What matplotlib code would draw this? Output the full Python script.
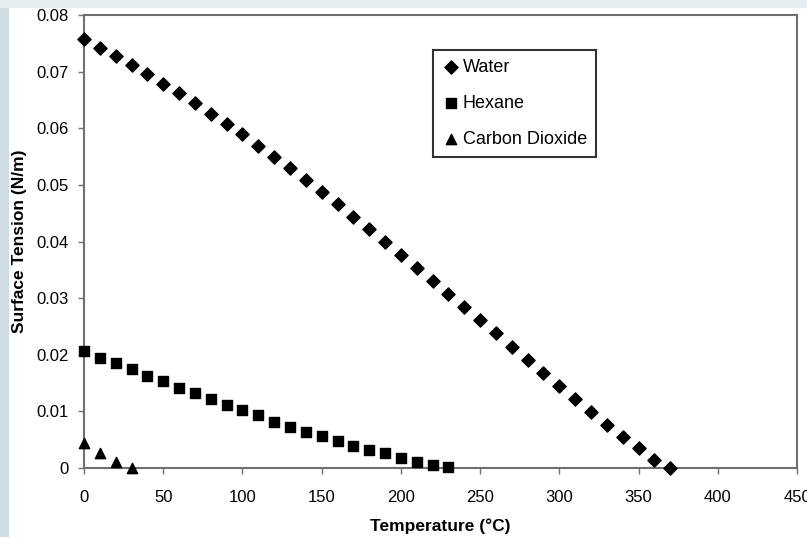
import numpy as np
import matplotlib.pyplot as plt
from matplotlib.patches import Rectangle

plt.rcParams['font.family'] = ['Liberation Sans', 'DejaVu Sans']

# Water, 0-370 C every 10
water_t = list(range(0, 380, 10))
water_s = [0.0757, 0.0742, 0.0727, 0.0712, 0.0696, 0.0679, 0.0662, 0.0644,
           0.0626, 0.0608, 0.0589, 0.0569, 0.0549, 0.0529, 0.0509, 0.0487,
           0.0466, 0.0444, 0.0422, 0.0399, 0.0377, 0.0354, 0.0331, 0.0308,
           0.0285, 0.0261, 0.0238, 0.0214, 0.0191, 0.0168, 0.0144, 0.0121,
           0.0099, 0.0076, 0.0054, 0.0035, 0.0015, 0.0]

# Hexane, 0-230 C every 10
hexane_t = list(range(0, 240, 10))
hexane_s = [0.0207, 0.0195, 0.0185, 0.0174, 0.0162, 0.0154, 0.0142, 0.0133,
            0.0121, 0.0112, 0.0102, 0.0093, 0.0082, 0.0073, 0.0064, 0.0057,
            0.0048, 0.0039, 0.0032, 0.0026, 0.0018, 0.0011, 0.0006, 0.0001]

# Carbon dioxide
co2_t = [0, 10, 20, 30]
co2_s = [0.0044, 0.0027, 0.0011, 0.0]

xticks = [0, 50, 100, 150, 200, 250, 300, 350, 400, 450]
yticks = [0, 0.01, 0.02, 0.03, 0.04, 0.05, 0.06, 0.07, 0.08]
ytick_labels = ['0', '0.01', '0.02', '0.03', '0.04', '0.05', '0.06', '0.07', '0.08']

fig = plt.figure(figsize=(8.07, 5.37), dpi=100)
fig.patch.set_facecolor('white')

# bluish page strips around the chart image
fig.patches.append(Rectangle((0, 0), 9 / 807, 1, transform=fig.transFigure,
                             facecolor='#cddde1', edgecolor='none', zorder=0))
fig.patches.append(Rectangle((0, 1 - 8 / 537), 1, 8 / 537, transform=fig.transFigure,
                             facecolor='#e4edef', edgecolor='none', zorder=0))

ax = fig.add_axes([84 / 807, 1 - 468 / 537, 713 / 807, 453 / 537])

ax.scatter(water_t, water_s, marker='D', s=45, color='black', label='Water',
           clip_on=False, zorder=3)
ax.scatter(hexane_t, hexane_s, marker='s', s=55, color='black', label='Hexane',
           clip_on=False, zorder=3)
ax.scatter(co2_t, co2_s, marker='^', s=55, color='black', label='Carbon Dioxide',
           clip_on=False, zorder=3)

ax.set_xlim(0, 450)
ax.set_ylim(0, 0.08)
ax.set_xticks(xticks)
ax.set_yticks(yticks)
ax.set_yticklabels(ytick_labels)
ax.tick_params(direction='out', length=4, width=1, color='#707070', labelsize=12)
ax.tick_params(axis='y', pad=7)
ax.tick_params(axis='x', pad=12)

for side in ['left', 'bottom', 'top', 'right']:
    ax.spines[side].set_color('#707070')
    ax.spines[side].set_linewidth(1.5)

ax.set_xlabel('Temperature (°C)', fontsize=12.5, fontweight='bold')
ax.set_ylabel('Surface Tension (N/m)', fontsize=12.5, fontweight='bold')
ax.xaxis.set_label_coords(0.5, -0.112)
ax.yaxis.set_label_coords(-0.0805, 0.5)

leg = ax.legend(loc='upper left', bbox_to_anchor=(349 / 713, 418 / 453),
                borderaxespad=0, fontsize=13, frameon=True, fancybox=False,
                handletextpad=0.15, handlelength=1.0, labelspacing=1.04,
                borderpad=0.5, markerscale=1.0)
leg.get_frame().set_edgecolor('black')
leg.get_frame().set_linewidth(1.5)

plt.savefig('out.png', dpi=100)
